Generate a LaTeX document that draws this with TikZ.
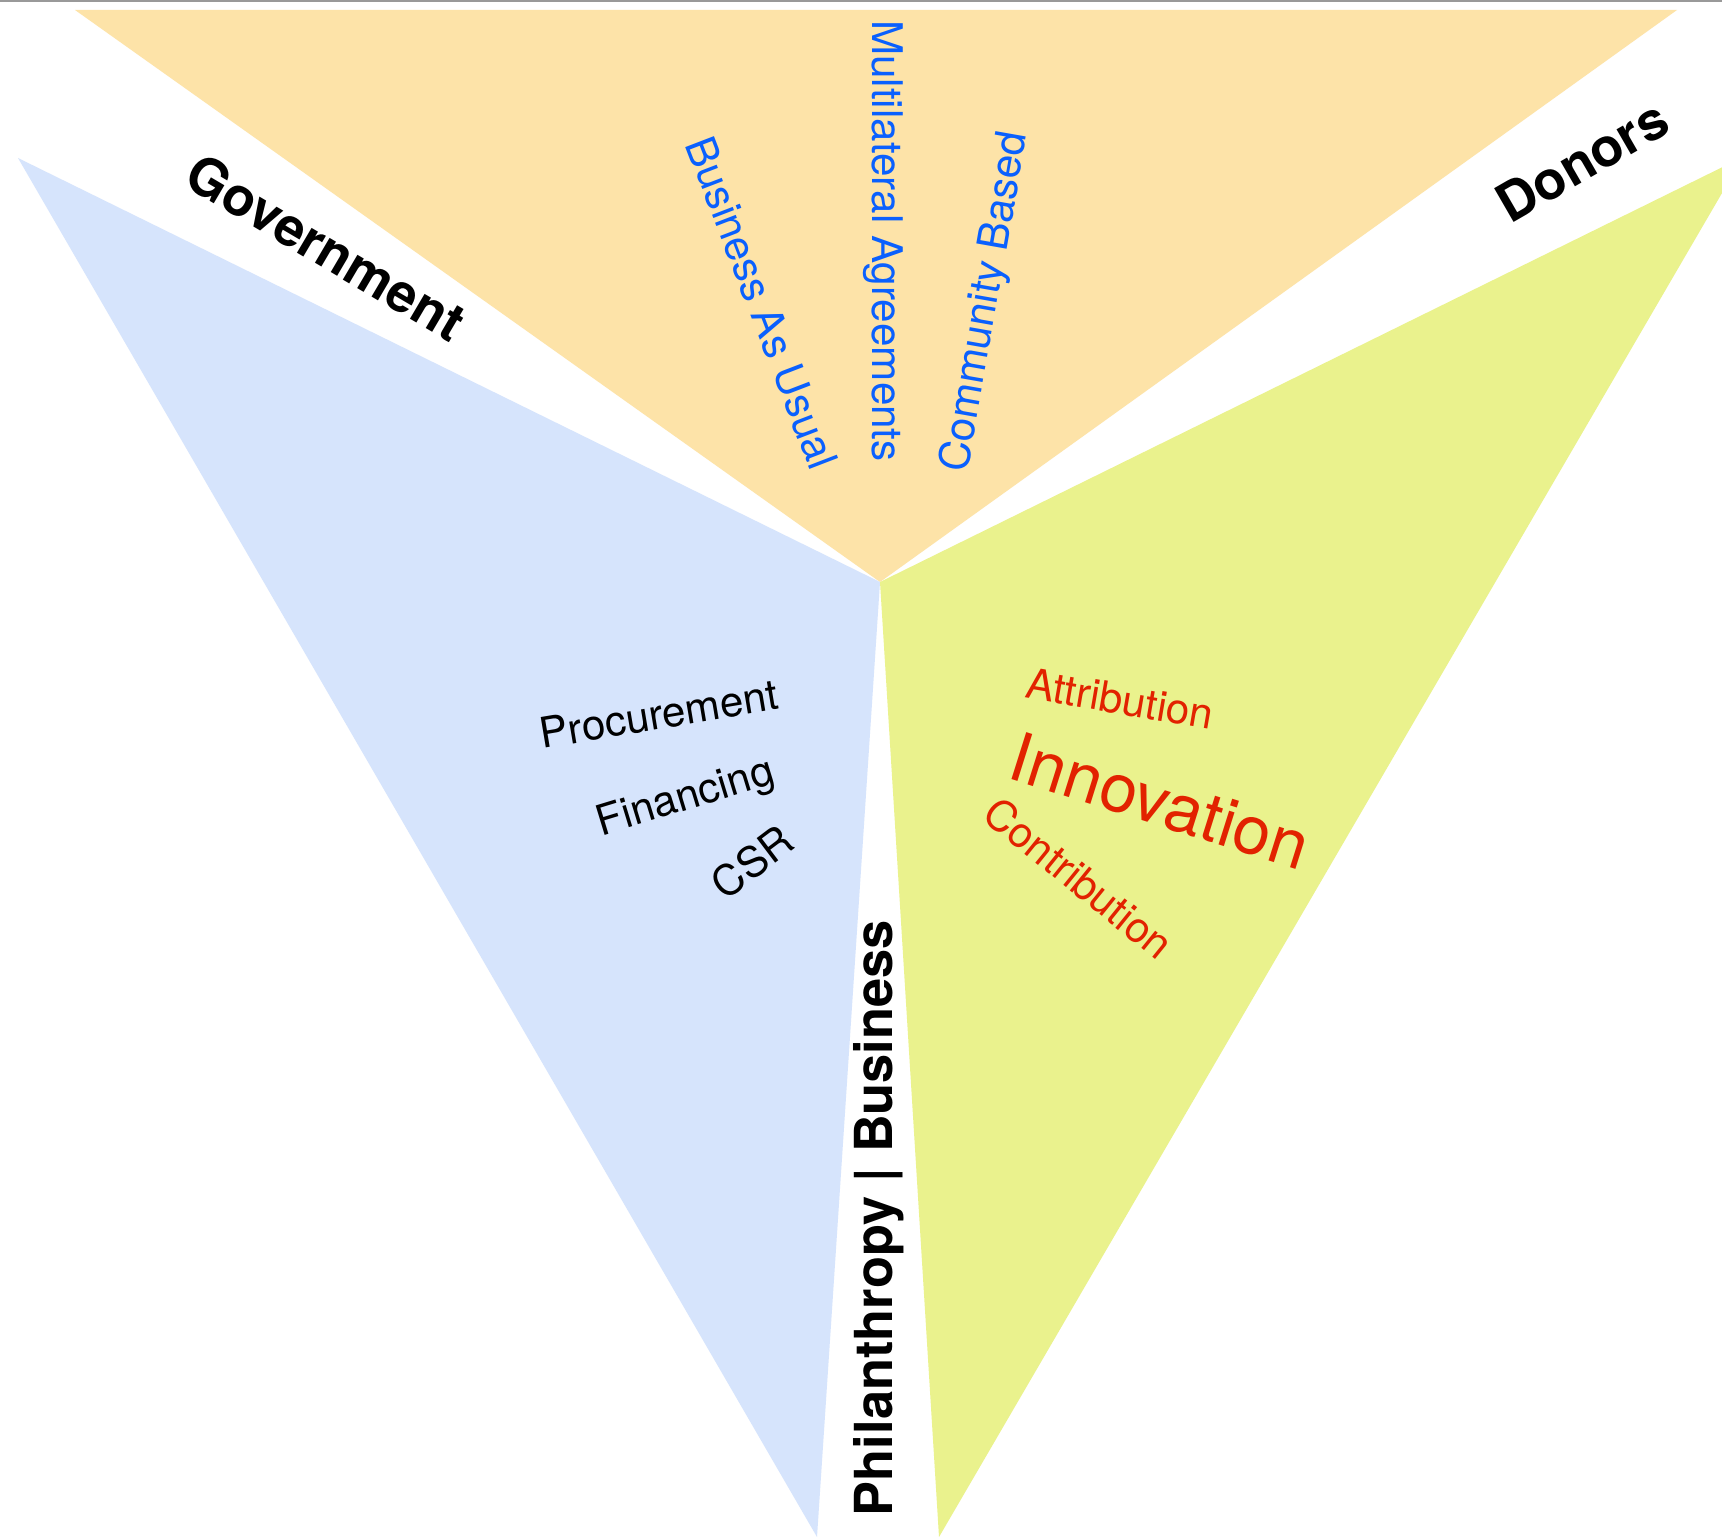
\documentclass[tikz,border=0pt]{standalone}
\usepackage{fontspec}
\setmainfont{TeX Gyre Heros}
\definecolor{sandfill}{RGB}{253,227,168}
\definecolor{skyfill}{RGB}{214,228,252}
\definecolor{limefill}{RGB}{234,242,141}
\definecolor{textblue}{RGB}{10,96,254}
\definecolor{textred}{RGB}{226,34,0}
\definecolor{rulegray}{RGB}{153,153,153}
\tikzset{
  headlabel/.style={font=\fontsize{15.2}{18}\selectfont\bfseries,text=black,inner sep=0pt},
  bluelabel/.style={font=\fontsize{12}{14}\selectfont,text=textblue,inner sep=0pt},
  plainlabel/.style={font=\fontsize{12}{14}\selectfont,text=black,inner sep=0pt},
  redlabel/.style={font=\fontsize{12}{14}\selectfont,text=textred,inner sep=0pt}
}
\begin{document}
\begin{tikzpicture}[x=0.01cm,y=-0.01cm]
      \clip (0,0) rectangle (1722,1537);
      \fill[white] (0,0) rectangle (1722,1537);
      \fill[rulegray] (0,0) rectangle (1722,2.5);
      \coordinate (hub) at (880,582);
      % the three sectors
      \foreach \col/\a/\b in {sandfill/{75,10}/{1677,10},skyfill/{18,158}/{817,1537},limefill/{1743,157}/{939,1537}} {
        \fill[\col] (hub) -- (\a) -- (\b) -- cycle;
      }
      % sector names
      \node[headlabel,rotate=-30.5] (gov) at (326,247) {Government};
      \node[headlabel,rotate=30] (donors) at (1582,161) {Donors};
      \node[headlabel,font=\fontsize{14.9}{18}\selectfont\bfseries,rotate=90] (phil) at (879,1218) {Philanthropy | Business};
      % top sector
      \node[bluelabel,rotate=-69] (bau) at (762,303) {Business As Usual};
      \node[bluelabel,rotate=-90] (multi) at (883,241) {Multilateral Agreements};
      \node[bluelabel,rotate=80] (community) at (986,302) {Community Based};
      % left sector
      \node[plainlabel,rotate=9.5] (procure) at (659,714) {Procurement};
      \node[plainlabel,rotate=17] (finance) at (686,799) {Financing};
      \node[plainlabel,rotate=37] (csr) at (752,862) {CSR};
      % right sector
      \node[redlabel,rotate=-9.7] (attr) at (1120,699) {Attribution};
      \node[redlabel,font=\fontsize{19.2}{23}\selectfont,rotate=-17.5] (innov) at (1160,801) {Innovation};
      \node[redlabel,rotate=-39] (contrib) at (1079,878) {Contribution};
\end{tikzpicture}
\end{document}
